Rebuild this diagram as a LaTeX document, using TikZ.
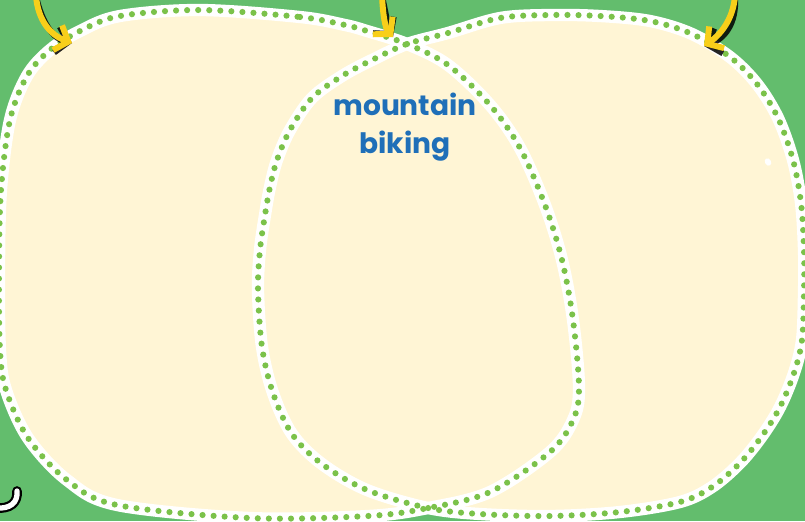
\documentclass[tikz,border=0pt]{standalone}
\usepackage{fontspec}
\setmainfont{Poppins}
\usetikzlibrary{arrows.meta}

\definecolor{grass}{HTML}{63BD6D}
\definecolor{cream}{HTML}{FFF5D5}
\definecolor{dotgreen}{HTML}{7BC24A}
\definecolor{labelblue}{HTML}{1F6FB8}
\definecolor{arrowyellow}{HTML}{F8CF1A}

% outlines of the two overlapping blobs (pixel grid, y downwards)
\newcommand\leftblobpath{plot[smooth cycle,tension=0.55] coordinates {
  (200,10) (300,17) (345,25) (367,31) (407,44) (448,65) (490,105) (520,148)
  (545,205) (562,260) (573,320) (579,388) (573,420) (550,452) (490,492)
  (428,508) (368,516) (250,518) (117,505) (67,480) (28,438) (6,390) (0,350)
  (-1,270) (1,190) (10,120) (27,76) (50,50) (80,31) (120,16)}}
\newcommand\rightblobpath{plot[smooth cycle,tension=0.55] coordinates {
  (407,44) (448,33) (500,18) (550,15) (600,16) (650,21) (692,34) (730,57)
  (757,84) (778,118) (793,160) (801,203) (804,250) (804,293) (802,340)
  (794,373) (780,407) (762,436) (740,463) (712,487) (680,502) (620,512)
  (550,516) (480,514) (428,508) (367,490) (322,464) (292,434) (273,393)
  (262,347) (258,290) (260,250) (265,215) (270,187) (277,160) (290,130)
  (312,98) (342,76) (372,60)}}

\tikzset{
  blobfill/.style={fill=cream},
  blobband/.style={draw=white,line width=7pt,line join=round},
  blobdots/.style={draw=dotgreen,line width=3.5pt,line cap=round,
    dash pattern=on 0pt off 6.3pt},
  pointer/.style={line width=3.4pt,line cap=round,line join=round,
    -{Straight Barb[length=6.5pt,width=15pt,line width=3.4pt]}},
}

\begin{document}
\begin{tikzpicture}[x=0.02cm,y=-0.02cm]

\useasboundingbox (0,0) rectangle (805,521);
\clip (0,0) rectangle (805,521);
\fill[grass] (0,0) rectangle (805,521);

% Blobs
\fill[blobfill] \leftblobpath;
\fill[blobfill] \rightblobpath;
\draw[blobband] \leftblobpath;
\draw[blobband] \rightblobpath;
\draw[blobdots] \leftblobpath;
\draw[blobdots] \rightblobpath;

% Small white marks
\fill[white,rotate around={30:(768,162)}] (768,162) ellipse (3 and 4);
\coordinate (hookA) at (-4,508);
\coordinate (hookB) at (17,491);
\draw[black,line width=5.5pt,line cap=round] (hookA) .. controls (10,509) and (18,503) .. (hookB);
\draw[white,line width=3pt,line cap=round] (hookA) .. controls (10,509) and (18,503) .. (hookB);

% Label
\node[font=\fontsize{16}{21.5}\selectfont\bfseries,text=labelblue,align=center] (mtb)
  at (405,127) {mountain\\biking};

% Yellow pointers with shadow
\coordinate (ptrA0) at (36,-4);   \coordinate (ptrA1) at (72,43);
\coordinate (ptrB0) at (382,-4);  \coordinate (ptrB1) at (393,37);
\coordinate (ptrC0) at (735,-4);  \coordinate (ptrC1) at (704,46);

\begin{scope}[shift={(4,4)},black,opacity=0.85]
\draw[pointer] (ptrA0) .. controls (38,20) and (50,35) .. (ptrA1);
\draw[pointer] (ptrB0) .. controls (383,15) and (385,28) .. (ptrB1);
\draw[pointer] (ptrC0) .. controls (733,20) and (720,35) .. (ptrC1);
\end{scope}
\draw[pointer,arrowyellow] (ptrA0) .. controls (38,20) and (50,35) .. (ptrA1);
\draw[pointer,arrowyellow] (ptrB0) .. controls (383,15) and (385,28) .. (ptrB1);
\draw[pointer,arrowyellow] (ptrC0) .. controls (733,20) and (720,35) .. (ptrC1);

\end{tikzpicture}
\end{document}
